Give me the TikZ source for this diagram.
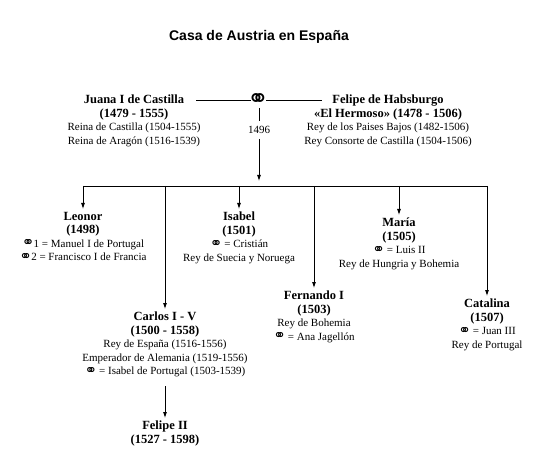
\documentclass[tikz,border=0pt]{standalone}
\usepackage{fontspec}
\setmainfont{Liberation Serif}
\newfontfamily\titlefont{Liberation Sans}
\newfontfamily\symfont{DejaVu Sans}
\usetikzlibrary{arrows.meta}
\newcommand{\ring}{\smash{\symfont\fontsize{15}{10}\selectfont\raisebox{-0.6pt}{⚭}}\kern-0.8pt}
\newcommand{\pname}[1]{{\fontsize{12.5}{13.5}\selectfont\bfseries #1}}
\begin{document}
\begin{tikzpicture}[x=1pt,y=-1pt,
  person/.style={align=center,anchor=north,inner sep=3pt,font=\fontsize{11}{13.5}\selectfont},
  conn/.style={line width=0.8pt,black},
  arr/.style={conn,-{Latex[length=6pt,width=4pt]}}]
\useasboundingbox (0,0) rectangle (540,470);
\node[anchor=base,font=\titlefont\bfseries\fontsize{14}{16}\selectfont] (title) at (259,41) {Casa de Austria en España};
\node[person] (juana) at (134,92) {\pname{Juana I de Castilla}\\\pname{(1479 - 1555)}\\Reina de Castilla (1504-1555)\\Reina de Aragón (1516-1539)};
\node[person] (felipe) at (388,92) {\pname{Felipe de Habsburgo}\\\pname{«El Hermoso» (1478 - 1506)}\\Rey de los Paises Bajos (1482-1506)\\Rey Consorte de Castilla (1504-1506)};
\node[inner sep=0pt,font=\symfont\fontsize{26}{26}\selectfont] (ring) at (258,101) {⚭};
\node[inner sep=5pt,font=\fontsize{11}{13}\selectfont] (year) at (259,130) {1496};
\coordinate (jl) at (196,100);
\coordinate (fr) at (322,100);
\coordinate (drop) at (259,181);
\coordinate (barL) at (83,186);
\coordinate (barR) at (487,186);
\draw[conn] (jl) -- (251,100) coordinate (jr);
\draw[conn] (266,100) coordinate (fl) -- (fr);
\draw[conn] (259,108) coordinate (rs) -- (year.north);
\draw[arr] (year.south) -- (drop);
\draw[conn] (barL) -- (barR);
\node[person] (leonor) at (83,209) {\pname{Leonor}\\\pname{(1498)}\\\ring1 = Manuel I de Portugal\\\ring2 = Francisco I de Francia};
\node[person] (carlos) at (165,309) {\pname{Carlos I - V}\\\pname{(1500 - 1558)}\\Rey de España (1516-1556)\\Emperador de Alemania (1519-1556)\\\ring{} = Isabel de Portugal (1503-1539)};
\node[person] (isabel) at (239,209) {\pname{Isabel}\\\pname{(1501)}\\\ring{} = Cristián\\Rey de Suecia y Noruega};
\node[person] (fernando) at (314,288) {\pname{Fernando I}\\\pname{(1503)}\\Rey de Bohemia\\\ring{} = Ana Jagellón};
\node[person] (maria) at (399,215) {\pname{María}\\\pname{(1505)}\\\ring{} = Luis II\\Rey de Hungria y Bohemia};
\node[person] (catalina) at (487,296) {\pname{Catalina}\\\pname{(1507)}\\\ring{} = Juan III\\Rey de Portugal};
\node[person] (felipe2) at (165,418) {\pname{Felipe II}\\\pname{(1527 - 1598)}};
\foreach \n in {leonor,carlos,isabel,fernando,maria,catalina}
  \draw[arr] (\n.north |- barL) -- (\n.north);
\draw[arr,shorten <=6pt] (carlos.south) -- (felipe2.north);
\end{tikzpicture}
\end{document}
